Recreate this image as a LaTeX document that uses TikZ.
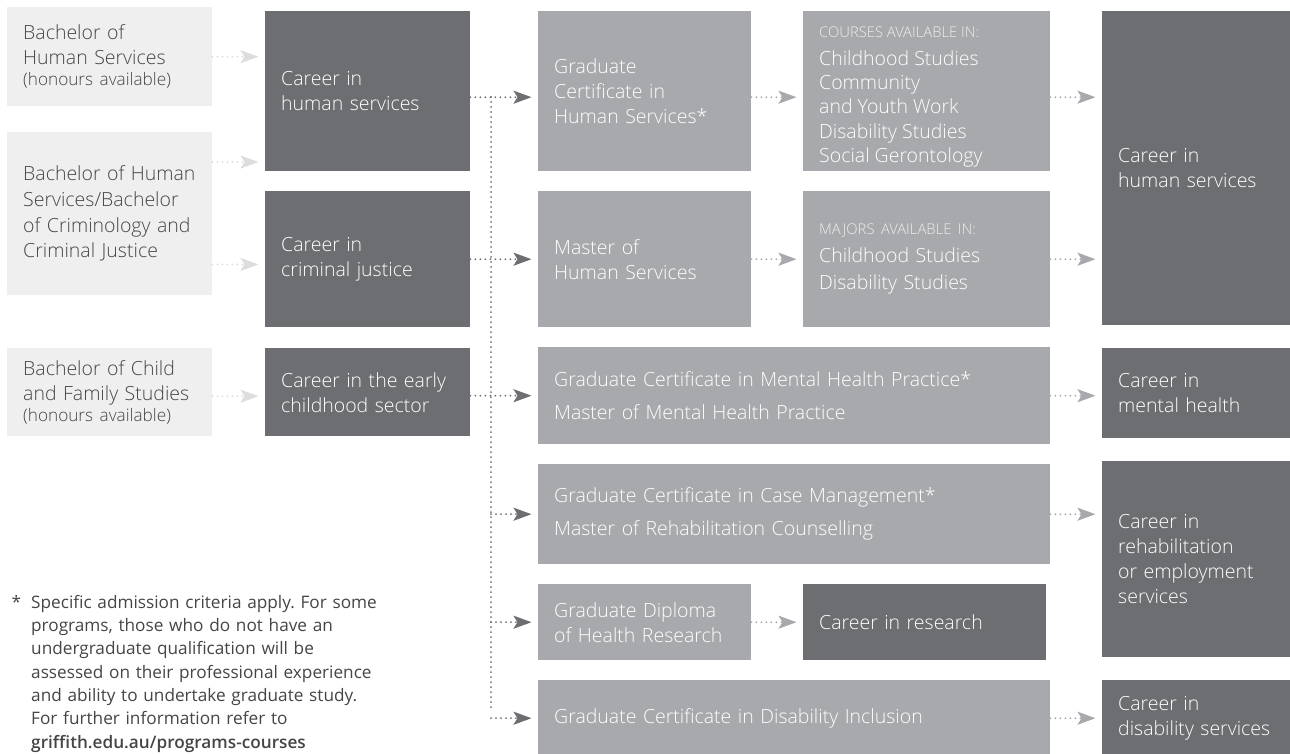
\documentclass[tikz,border=0pt]{standalone}
\usepackage{fontspec}
\setmainfont{Open Sans}[UprightFont={* Light}, BoldFont={* Semibold}]
\newfontfamily\notefam{Open Sans}[BoldFont={* Semibold}]
\usepackage{tikz}
\usetikzlibrary{arrows.meta}

\newcommand{\boxfont}{\fontsize{19.5}{25}\selectfont}
\newcommand{\smallfont}{\fontsize{17.2}{19}\selectfont}
\newcommand{\capfont}{\fontsize{14.8}{16}\selectfont}
\newcommand{\notefont}{\notefam\fontsize{17.2}{23.3}\selectfont}
\frenchspacing

\begin{document}
\begin{tikzpicture}[x=1pt, y=-1pt,
        box/.style={anchor=north west, inner xsep=16pt, inner ysep=0pt, align=left, font=\boxfont},
        lightbox/.style={box, fill=boxlight, text=textdark},
        midbox/.style={box, fill=boxmid, text=white},
        darkbox/.style={box, fill=boxdark, text=white},
        flow/.style={line width=2pt, dash pattern=on 0pt off 5pt, line cap=round, shorten >=6.5pt},
        lightflow/.style={flow, draw=arrowlight, -{Stealth[length=18pt, width=13pt, inset=4pt, fill=arrowlight]}},
        midflow/.style={flow, draw=boxmid, -{Stealth[length=18pt, width=13pt, inset=4pt, fill=boxmid]}},
        darkflow/.style={flow, draw=boxdark, -{Stealth[length=18pt, width=13pt, inset=4pt, fill=boxdark]}}]
        \definecolor{boxlight}{HTML}{EFEFEF}
        \definecolor{boxmid}{HTML}{A7A9AC}
        \definecolor{boxdark}{HTML}{6D6E71}
        \definecolor{textdark}{HTML}{454547}
        \definecolor{arrowlight}{HTML}{DDDDDD}
        \definecolor{captext}{HTML}{EEEEEE}

        \useasboundingbox (0,0) rectangle (1290,753);
        \clip (0,0) rectangle (1290,753);

        % undergraduate
        \node[lightbox, text width=173pt, minimum height=99pt] (bhs) at (7,7)
                {Bachelor of\\Human Services\\[-4pt]{\smallfont (honours available)}};
        \node[lightbox, text width=173pt, minimum height=163pt, font=\fontsize{19.5}{25.7}\selectfont] (bb) at (7,132)
                {Bachelor of Human\\Services/Bachelor\\of Criminology and\\Criminal Justice};
        \node[lightbox, text width=173pt, minimum height=88pt] (bcf) at (7,348)
                {Bachelor of Child\\and Family Studies\\[-4pt]{\smallfont (honours available)}};

        % first careers
        \node[darkbox, text width=173pt, minimum height=160pt] (chs) at (265,11) {Career in\\human services};
        \node[darkbox, text width=173pt, minimum height=136pt] (ccj) at (265,191) {Career in\\criminal justice};
        \node[darkbox, text width=173pt, minimum height=88pt] (ec) at (265,348) {Career in the early\\childhood sector};

        % postgraduate
        \node[midbox, text width=181pt, minimum height=160pt] (gch) at (538,11) {Graduate\\Certificate in\\Human Services*};
        \node[midbox, text width=181pt, minimum height=136pt] (mhs) at (538,191) {Master of\\Human Services};
        \node[midbox, font=\fontsize{19.5}{24.3}\selectfont] (crs) at (803,11)
                {\parbox[c][160pt][t]{215pt}{\raggedright\vspace*{16pt}{\capfont\color{captext}COURSES AVAILABLE IN:}\\[3pt]Childhood Studies\\Community\\and Youth Work\\Disability Studies\\Social Gerontology}};
        \node[midbox, text width=215pt, minimum height=136pt] (maj) at (803,191)
                {{\capfont\color{captext}MAJORS AVAILABLE IN:}\\[3pt]Childhood Studies\\[2pt]Disability Studies};
        \node[midbox, text width=480pt, minimum height=97pt] (mh) at (538,347)
                {Graduate Certificate in Mental Health Practice*\\[8pt]Master of Mental Health Practice};
        \node[midbox, text width=480pt, minimum height=100pt] (cm) at (538,464)
                {Graduate Certificate in Case Management*\\[8pt]Master of Rehabilitation Counselling};
        \node[midbox, text width=181pt, minimum height=76pt] (gd) at (538,584) {Graduate Diploma\\of Health Research};
        \node[midbox, text width=480pt, minimum height=76pt] (di) at (538,680) {Graduate Certificate in Disability Inclusion};

        % careers
        \node[darkbox, text width=156pt, minimum height=314pt] (big) at (1102,11) {Career in\\human services};
        \node[darkbox, text width=156pt, minimum height=90pt] (cmh) at (1102,348) {Career in\\mental health};
        \node[darkbox, text width=156pt, minimum height=196pt] (reh) at (1102,461) {Career in\\rehabilitation\\or employment\\services};
        \node[darkbox, text width=211pt, minimum height=76pt] (res) at (803,584) {Career in research};
        \node[darkbox, text width=156pt, minimum height=76pt] (cds) at (1102,680) {Career in\\disability~services};

        % footnote
        \node[anchor=north west, inner sep=0pt, align=left, text width=400pt, font=\notefont, text=textdark] (note) at (31,595)
                {\llap{*\hspace{10pt}}Specific admission criteria apply. For some\\programs, those who do not have an\\undergraduate qualification will be\\assessed on their professional experience\\and ability to undertake graduate study.\\For further information refer to\\\textbf{griffith.edu.au/programs-courses}};

        % light arrows
        \coordinate (bb1) at ([yshift=-30pt]bb.north east);
        \coordinate (bb2) at ([yshift=31pt]bb.south east);
        \coordinate (bc1) at ([yshift=-4pt]bcf.east);
        \draw[lightflow] (bhs.east) -- (bhs.east -| chs.west);
        \draw[lightflow] (bb1) -- (bb1 -| chs.west);
        \draw[lightflow] (bb2) -- (bb2 -| ccj.west);
        \draw[lightflow] (bc1) -- (bc1 -| ec.west);

        % dark arrows and trunk
        \coordinate (top) at ([yshift=-6pt]chs.east);
        \coordinate (trunk) at (491,97);
        \draw[darkflow] (top) -- (top -| gch.west);
        \draw[darkflow] (ccj.east) -- (ccj.east -| mhs.west);
        \draw[darkflow] (ec.east |- mh.west) -- (mh.west);
        \draw[darkflow, -] (trunk) -- (trunk |- di.west);
        \draw[darkflow] (trunk |- cm.west) -- (cm.west);
        \draw[darkflow] (trunk |- gd.west) -- (gd.west);
        \draw[darkflow] (trunk |- di.west) -- (di.west);

        % mid arrows
        \coordinate (gc1) at ([yshift=-6pt]gch.east);
        \coordinate (cr1) at ([yshift=-6pt]crs.east);
        \draw[midflow] (gc1) -- (gc1 -| crs.west);
        \draw[midflow] (mhs.east) -- (maj.west);
        \draw[midflow] (cr1) -- (cr1 -| big.west);
        \draw[midflow] (maj.east) -- (maj.east -| big.west);
        \draw[midflow] (mh.east) -- (mh.east -| cmh.west);
        \draw[midflow] (cm.east) -- (cm.east -| reh.west);
        \draw[midflow] (gd.east) -- (res.west);
        \draw[midflow] (di.east) -- (di.east -| cds.west);
    \end{tikzpicture}
\end{document}
